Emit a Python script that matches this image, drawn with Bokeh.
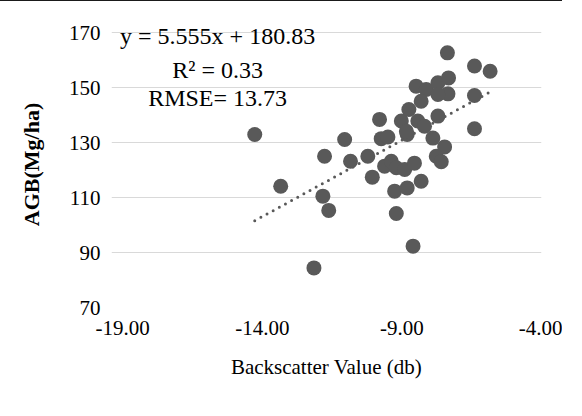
from bokeh.plotting import figure
from bokeh.models import Label, FixedTicker, NumeralTickFormatter
from bokeh.embed import file_html
from bokeh.resources import INLINE

backscatter = [-14.27, -13.34, -12.15, -11.77, -11.83, -11.62, -11.05, -10.84, -10.22, -10.06,
               -9.80, -9.74, -9.50, -9.62, -9.38, -9.20, -8.90, -8.55, -9.26, -8.81,
               -8.31, -9.20, -8.60, -8.81, -7.89, -7.47, -7.77, -7.59, -9.02, -8.84,
               -8.75, -8.43, -8.19, -7.71, -8.49, -8.13, -7.71, -7.33, -7.35, -7.71,
               -8.31, -7.37, -6.40, -5.84, -6.40, -6.40]
agb = [132.9, 114.1, 84.4, 125.0, 110.5, 105.3, 131.1, 123.2, 125.0, 117.4,
       138.4, 131.4, 132.0, 121.4, 123.2, 120.8, 120.2, 122.5, 112.3, 113.5,
       115.9, 104.2, 92.3, 132.9, 131.6, 128.4, 125.0, 123.0, 137.8, 134.1,
       142.0, 137.8, 135.9, 139.6, 150.5, 149.3, 151.7, 153.5, 147.7, 147.5,
       145.0, 162.6, 157.8, 155.9, 147.1, 135.0]
slope = 5.555
intercept = 180.83
x_ticks = [-19, -14, -9, -4]
y_ticks = [70, 90, 110, 130, 150, 170]
eq_lines = ["y = 5.555x + 180.83", "R\u00b2 = 0.33", "RMSE= 13.73"]

FONT = "Liberation Serif"
GREY = "#595959"
GRID = "#d9d9d9"

# ranges padded slightly (left/top) so the text box is not clipped; grid bounded to the axis extent
p = figure(width=566, height=400, output_backend="svg", toolbar_location=None,
           x_range=(-19.4, -4), y_range=(70, 174),
           min_border_left=113, min_border_right=23, min_border_top=20, min_border_bottom=94)
p.styles = {"border-left": "2px solid #1a1a1a", "border-top": "2px solid #1a1a1a",
            "margin-left": "-4px", "margin-top": "-1px"}
p.outline_line_color = None
p.background_fill_color = "white"
p.border_fill_color = "white"

p.ygrid.grid_line_color = GRID
p.ygrid.grid_line_width = 1
p.ygrid.ticker = FixedTicker(ticks=y_ticks)
p.ygrid.bounds = (x_ticks[0], x_ticks[-1])

p.xgrid.grid_line_color = GRID
p.xgrid.grid_line_width = 1
p.xgrid.ticker = FixedTicker(ticks=[x_ticks[-1]])
p.xgrid.bounds = (y_ticks[0], y_ticks[-1])

for ax in (p.xaxis[0], p.yaxis[0]):
    ax.axis_line_color = None
    ax.major_tick_line_color = None
    ax.minor_tick_line_color = None
    ax.major_tick_in = 0
    ax.major_tick_out = 0
    ax.minor_tick_in = 0
    ax.minor_tick_out = 0
    ax.major_label_text_font = FONT
    ax.major_label_text_font_size = "21px"
    ax.major_label_text_color = "#000000"
    ax.axis_label_text_font = FONT
    ax.axis_label_text_font_size = "21px"
    ax.axis_label_text_color = "#000000"
    ax.axis_label_text_font_style = "normal"

p.xaxis.ticker = FixedTicker(ticks=x_ticks)
p.xaxis.formatter = NumeralTickFormatter(format="0.00")
p.xaxis.axis_label = "Backscatter Value (db)"
p.xaxis.major_label_standoff = 13
p.xaxis.axis_label_standoff = 17

p.yaxis.ticker = FixedTicker(ticks=y_ticks)
p.yaxis.axis_label = "AGB(Mg/ha)"
p.yaxis.axis_label_text_font_style = "bold"
p.yaxis.axis_label_text_font_size = "22px"
p.yaxis.major_label_standoff = 11
p.yaxis.axis_label_standoff = 22

xs = [min(backscatter), max(backscatter)]
ys = [slope * v + intercept for v in xs]
p.line(xs, ys, line_color=GREY, line_width=3, line_dash="0 7", line_cap="round")

p.scatter(backscatter, agb, size=15, fill_color=GREY, line_color=GREY, line_width=0)

label_y = [168.7, 156.5, 146.2]
for txt, yy in zip(eq_lines, label_y):
    p.add_layout(Label(x=-15.6, y=yy, text=txt, text_align="center", text_baseline="middle",
                       text_font=FONT, text_font_size="24px", text_color="#000000"))

open("out.html", "w").write(file_html(p, INLINE))
